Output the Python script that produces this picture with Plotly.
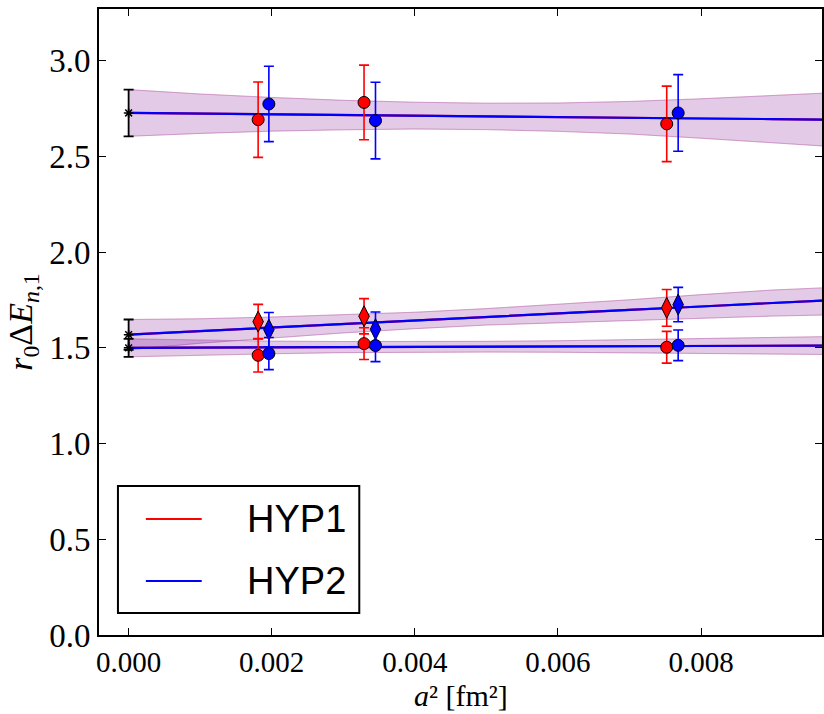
import plotly.graph_objects as go

# ---------------- data ----------------
# lattice points, HYP1 (red) and HYP2 (blue), slightly shifted in a^2
x_red = [0.00181, 0.00329, 0.00752]
x_blue = [0.00196, 0.00345, 0.00768]

# upper group (circles, ~2.7)
top_red = [2.692, 2.782, 2.670]
top_red_err = [0.197, 0.195, 0.197]
top_blue = [2.774, 2.687, 2.727]
top_blue_err = [0.197, 0.200, 0.200]

# middle group, diamonds (~1.6-1.7)
dia_red = [1.637, 1.665, 1.709]
dia_red_err = [0.090, 0.092, 0.096]
dia_blue = [1.595, 1.597, 1.726]
dia_blue_err = [0.090, 0.090, 0.090]

# middle group, circles (~1.5)
low_red = [1.461, 1.522, 1.503]
low_red_err = [0.087, 0.083, 0.083]
low_blue = [1.470, 1.512, 1.513]
low_blue_err = [0.084, 0.084, 0.080]

# continuum extrapolations at a^2 = 0
x_cont = [0.0, 0.0, 0.0]
y_cont = [2.727, 1.569, 1.500]
y_cont_err = [0.122, 0.079, 0.047]

# fit lines and error bands
fit_x = [0.0, 0.001, 0.002, 0.003, 0.004, 0.005, 0.006, 0.007, 0.008, 0.009, 0.0098]
top_fit = [2.727, 2.723, 2.720, 2.716, 2.713, 2.709, 2.705, 2.702, 2.698, 2.695, 2.692]
top_hi = [2.849, 2.826, 2.808, 2.793, 2.783, 2.778, 2.779, 2.787, 2.801, 2.818, 2.832]
top_lo = [2.605, 2.620, 2.632, 2.639, 2.643, 2.640, 2.631, 2.617, 2.595, 2.572, 2.552]
dia_fit = [1.569, 1.588, 1.606, 1.625, 1.643, 1.662, 1.680, 1.698, 1.716, 1.734, 1.749]
dia_hi = [1.648, 1.652, 1.661, 1.672, 1.686, 1.705, 1.727, 1.751, 1.778, 1.802, 1.815]
dia_lo = [1.490, 1.524, 1.551, 1.578, 1.600, 1.619, 1.633, 1.645, 1.654, 1.666, 1.672]
low_fit = [1.500, 1.501, 1.502, 1.504, 1.505, 1.506, 1.507, 1.509, 1.510, 1.511, 1.512]
low_hi = [1.547, 1.540, 1.535, 1.533, 1.533, 1.534, 1.537, 1.542, 1.548, 1.554, 1.559]
low_lo = [1.453, 1.462, 1.469, 1.475, 1.477, 1.478, 1.477, 1.476, 1.472, 1.468, 1.465]

x_ticks = [0.0, 0.002, 0.004, 0.006, 0.008]
x_tick_text = ["0.000", "0.002", "0.004", "0.006", "0.008"]
y_ticks = [0.0, 0.5, 1.0, 1.5, 2.0, 2.5, 3.0]
y_tick_text = ["0.0", "0.5", "1.0", "1.5", "2.0", "2.5", "3.0"]
legend_names = ["HYP1", "HYP2"]
x_title = "<i>a</i>² [fm²]"
y_title = "<i>r</i><sub>0</sub>Δ<i>E</i><sub><i>n</i>,1</sub>"

# ---------------- figure ----------------
fig = go.Figure()

bands = [(top_lo, top_hi), (dia_lo, dia_hi), (low_lo, low_hi)]
band_styles = [("rgba(255,0,0,0.11)", "rgba(255,140,140,0.40)"),
               ("rgba(0,0,255,0.11)", "rgba(150,100,200,0.40)")]
for fill, edge in band_styles:
    for lo, hi in bands:
        fig.add_trace(go.Scatter(x=fit_x + fit_x[::-1], y=hi + lo[::-1],
                                 fill="toself", fillcolor=fill,
                                 line=dict(color=edge, width=1),
                                 mode="lines", hoverinfo="skip", showlegend=False))

for col in ["red", "blue"]:
    for fy in [top_fit, dia_fit, low_fit]:
        fig.add_trace(go.Scatter(x=fit_x, y=fy, mode="lines",
                                 line=dict(color=col, width=2.2), showlegend=False))


def pts(x, y, e, col, sym, size):
    fig.add_trace(go.Scatter(
        x=x, y=y, mode="markers", showlegend=False,
        marker=dict(color=col, symbol=sym, size=size, line=dict(color="black", width=1)),
        error_y=dict(type="data", array=e, visible=True, color=col, thickness=1.6, width=5)))


pts(x_red, top_red, top_red_err, "red", "circle", 12)
pts(x_blue, top_blue, top_blue_err, "blue", "circle", 12)
pts(x_red, dia_red, dia_red_err, "red", "diamond-tall", 15)
pts(x_blue, dia_blue, dia_blue_err, "blue", "diamond-tall", 15)
pts(x_red, low_red, low_red_err, "red", "circle", 12)
pts(x_blue, low_blue, low_blue_err, "blue", "circle", 12)

fig.add_trace(go.Scatter(
    x=x_cont, y=y_cont, mode="markers", showlegend=False,
    marker=dict(color="black", symbol="asterisk-open", size=8, line=dict(color="black", width=1.5)),
    error_y=dict(type="data", array=y_cont_err, visible=True, color="black", thickness=1.8, width=5)))

# ---------------- manual legend box ----------------
L, T, W, H = 99, 9, 725, 626


def px(xp):
    return (xp - L) / W


def py(yp):
    return (T + H - yp) / H


fig.add_shape(type="rect", xref="paper", yref="paper",
              x0=px(118), x1=px(360), y0=py(613), y1=py(486),
              line=dict(color="black", width=2), fillcolor="white", layer="above")
for name, col, yy in zip(legend_names, ["red", "blue"], [519, 581]):
    fig.add_shape(type="line", xref="paper", yref="paper",
                  x0=px(146), x1=px(202), y0=py(yy), y1=py(yy),
                  line=dict(color=col, width=2), layer="above")
    fig.add_annotation(xref="paper", yref="paper", x=px(245), y=py(yy),
                       xanchor="left", yanchor="middle", showarrow=False,
                       text=name, font=dict(family="Liberation Sans", size=38, color="black"))

serif = "Liberation Serif"
# x-axis title placed as annotation just below the tick labels
fig.add_annotation(xref="paper", yref="paper", x=px(462), y=py(714),
                   xanchor="center", yanchor="bottom", showarrow=False,
                   text=x_title, font=dict(family=serif, size=30, color="black"))

fig.update_layout(
    width=824, height=714,
    margin=dict(l=L, r=0, t=T, b=714 - T - H),
    plot_bgcolor="white", paper_bgcolor="white",
    xaxis=dict(range=[-0.000414, 0.00969], tickvals=x_ticks, ticktext=x_tick_text,
               ticks="inside", ticklen=7, tickcolor="black", tickwidth=1,
               showline=True, linecolor="black", linewidth=2, mirror="ticks",
               showgrid=False, zeroline=False,
               tickfont=dict(family=serif, size=29, color="black")),
    yaxis=dict(range=[0, 3.27], tickvals=y_ticks, ticktext=y_tick_text,
               ticks="inside", ticklen=7, tickcolor="black", tickwidth=1,
               showline=True, linecolor="black", linewidth=2, mirror="ticks",
               showgrid=False, zeroline=False,
               tickfont=dict(family=serif, size=33, color="black"),
               title=dict(text=y_title,
                          font=dict(family=serif, size=34, color="black"), standoff=6)),
)

fig.write_html("out.html")
